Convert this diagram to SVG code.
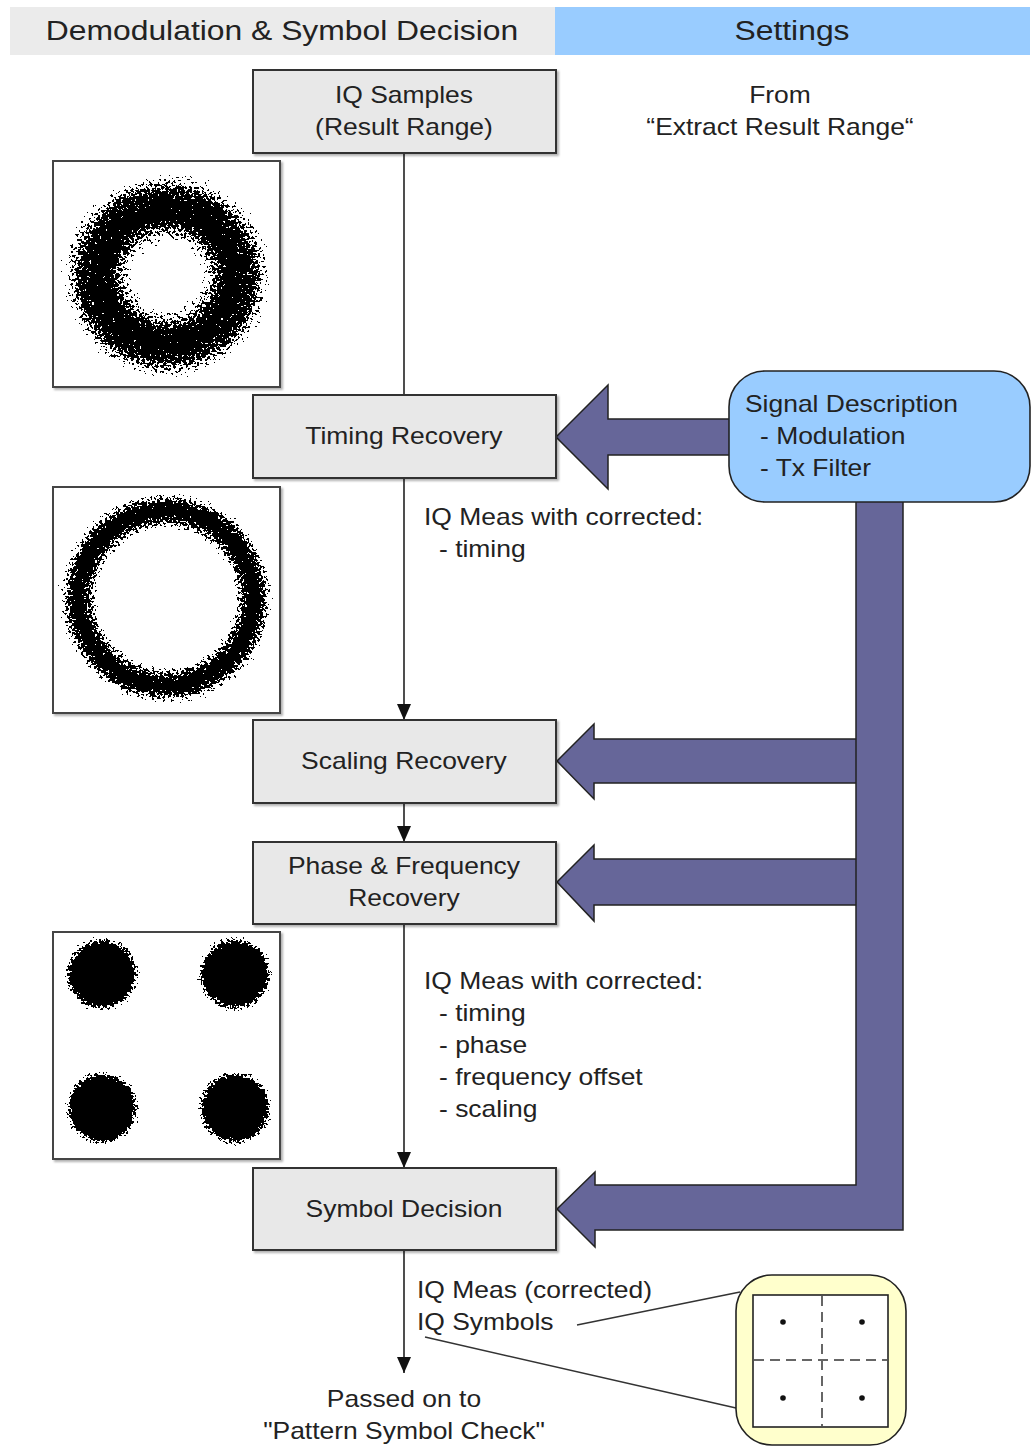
<svg xmlns="http://www.w3.org/2000/svg" width="1032" height="1447" viewBox="0 0 1032 1447">
<style>
text { font-family: "Liberation Sans", Arial, sans-serif; fill: #222; font-size: 23px; transform: scaleX(1.15); transform-box: fill-box; }
.c { text-anchor: middle; transform-origin: 50% 50%; }
.l { text-anchor: start; transform-origin: 0 50%; }
.hd { font-size: 27.7px; }
.box { fill: #e8e8e8; stroke: #333; stroke-width: 2; filter: url(#sh); }
.frame { fill: #fff; stroke: #444; stroke-width: 2; filter: url(#sh); }
.big { fill: #666699; stroke: #222; stroke-width: 1.5; stroke-linejoin: miter; }
.ln { fill: none; stroke: #222; stroke-width: 1.6; }
.thin { fill: none; stroke: #333; stroke-width: 1.5; }
.dash { fill: none; stroke: #666; stroke-width: 2; stroke-dasharray: 10 6; }
</style>
<defs>
<filter id="sh" x="-5%" y="-5%" width="115%" height="120%">
<feDropShadow dx="2" dy="2" stdDeviation="1.2" flood-color="#000" flood-opacity="0.3"/>
</filter>
<filter id="speck" x="0" y="0" width="1" height="1" color-interpolation-filters="sRGB">
<feTurbulence type="fractalNoise" baseFrequency="0.38" numOctaves="2" seed="7" result="n"/>
<feColorMatrix in="n" type="matrix" values="0 0 0 0 0  0 0 0 0 0  0 0 0 0 0  1 0 0 0 0" result="na"/>
<feComposite in="SourceGraphic" in2="na" operator="arithmetic" k1="0" k2="1" k3="-1" k4="0.5" result="c"/>
<feColorMatrix in="c" type="matrix" values="0 0 0 0 0  0 0 0 0 0  0 0 0 0 0  0 0 0 1 0" result="c2"/>
<feComponentTransfer in="c2"><feFuncA type="discrete" tableValues="0 1"/></feComponentTransfer>
</filter>
<radialGradient id="ring1" cx="0.5" cy="0.5" r="0.5">
<stop offset="0" stop-color="#000" stop-opacity="0"/>
<stop offset="0.22" stop-color="#000" stop-opacity="0.04"/>
<stop offset="0.36" stop-color="#000" stop-opacity="0.4"/>
<stop offset="0.55" stop-color="#000" stop-opacity="0.8"/>
<stop offset="0.75" stop-color="#000" stop-opacity="0.65"/>
<stop offset="0.88" stop-color="#000" stop-opacity="0.32"/>
<stop offset="1" stop-color="#000" stop-opacity="0"/>
</radialGradient>
<radialGradient id="ring2" cx="0.5" cy="0.5" r="0.5">
<stop offset="0" stop-color="#000" stop-opacity="0"/>
<stop offset="0.56" stop-color="#000" stop-opacity="0"/>
<stop offset="0.66" stop-color="#000" stop-opacity="0.5"/>
<stop offset="0.78" stop-color="#000" stop-opacity="0.85"/>
<stop offset="0.88" stop-color="#000" stop-opacity="0.5"/>
<stop offset="0.96" stop-color="#000" stop-opacity="0.15"/>
<stop offset="1" stop-color="#000" stop-opacity="0"/>
</radialGradient>
<radialGradient id="blob" cx="0.5" cy="0.5" r="0.5">
<stop offset="0" stop-color="#000" stop-opacity="1"/>
<stop offset="0.62" stop-color="#000" stop-opacity="1"/>
<stop offset="0.76" stop-color="#000" stop-opacity="0.6"/>
<stop offset="0.9" stop-color="#000" stop-opacity="0.25"/>
<stop offset="1" stop-color="#000" stop-opacity="0"/>
</radialGradient>
<marker id="ah" viewBox="0 0 16 14" refX="16" refY="7" markerWidth="16" markerHeight="14" markerUnits="userSpaceOnUse" orient="auto">
<path d="M0,0 L16,7 L0,14 z" fill="#111"/>
</marker>
</defs>

<rect width="1032" height="1447" fill="#fff"/>

<g id="header">
<rect x="10" y="7" width="545" height="48" fill="#ebebeb"/>
<rect x="555" y="7" width="475" height="48" fill="#99ccff"/>
<text class="c hd" x="282" y="40">Demodulation &amp; Symbol Decision</text>
<text class="c hd" x="792" y="40">Settings</text>
</g>

<g id="connectors">
<line class="ln" x1="404" y1="153" x2="404" y2="395"/>
<line class="ln" x1="404" y1="478" x2="404" y2="720" marker-end="url(#ah)"/>
<line class="ln" x1="404" y1="803" x2="404" y2="842" marker-end="url(#ah)"/>
<line class="ln" x1="404" y1="924" x2="404" y2="1168" marker-end="url(#ah)"/>
<line class="ln" x1="404" y1="1250" x2="404" y2="1373" marker-end="url(#ah)"/>
<line class="thin" x1="577" y1="1325" x2="740" y2="1292"/>
<line class="thin" x1="425" y1="1337" x2="736" y2="1408"/>
<path class="big" d="M556,437 L608,385 L608,419 L735,419 L735,455 L608,455 L608,489 Z"/>
<path class="big" d="M557,761 L594,724 L594,739 L860,739 L860,783 L594,783 L594,799 Z"/>
<path class="big" d="M557,882 L594,845 L594,859 L860,859 L860,905 L594,905 L594,921 Z"/>
<path class="big" d="M903,495 L903,1230 L595,1230 L595,1247 L557,1209 L595,1172 L595,1185 L856,1185 L856,495 Z"/>
</g>

<g id="iq-samples">
<rect class="box" x="253" y="70" width="303" height="83"/>
<text class="c" x="404" y="103">IQ Samples</text>
<text class="c" x="404" y="135">(Result Range)</text>
</g>

<g id="from-label">
<text class="c" x="780" y="103">From</text>
<text class="c" x="780" y="135">“Extract Result Range“</text>
</g>

<g id="timing-recovery">
<rect class="box" x="253" y="395" width="303" height="83"/>
<text class="c" x="404" y="444">Timing Recovery</text>
</g>

<g id="signal-description">
<rect x="729" y="371" width="301" height="131" rx="36" ry="36" fill="#99ccff" stroke="#222" stroke-width="1.6"/>
<text class="l" x="745" y="412">Signal Description</text>
<text class="l" x="760" y="444">- Modulation</text>
<text class="l" x="760" y="476">- Tx Filter</text>
</g>

<g id="label-timing">
<text class="l" x="424" y="525">IQ Meas with corrected:</text>
<text class="l" x="439" y="557">- timing</text>
</g>

<g id="scaling-recovery">
<rect class="box" x="253" y="720" width="303" height="83"/>
<text class="c" x="404" y="769">Scaling Recovery</text>
</g>

<g id="phase-frequency-recovery">
<rect class="box" x="253" y="842" width="303" height="82"/>
<text class="c" x="404" y="874">Phase &amp; Frequency</text>
<text class="c" x="404" y="906">Recovery</text>
</g>

<g id="label-corrected">
<text class="l" x="424" y="989">IQ Meas with corrected:</text>
<text class="l" x="439" y="1021">- timing</text>
<text class="l" x="439" y="1053">- phase</text>
<text class="l" x="439" y="1085">- frequency offset</text>
<text class="l" x="439" y="1117">- scaling</text>
</g>

<g id="symbol-decision">
<rect class="box" x="253" y="1168" width="303" height="82"/>
<text class="c" x="404" y="1217">Symbol Decision</text>
</g>

<g id="label-output">
<text class="l" x="417" y="1298">IQ Meas (corrected)</text>
<text class="l" x="417" y="1330">IQ Symbols</text>
</g>

<g id="passed-on">
<text class="c" x="404" y="1407">Passed on to</text>
<text class="c" x="404" y="1439">"Pattern Symbol Check"</text>
</g>

<g id="plot-raw">
<rect class="frame" x="53" y="161" width="227" height="226"/>
<g filter="url(#speck)">
<ellipse cx="167" cy="276" rx="114" ry="112" fill="url(#ring1)"/>
</g>
</g>

<g id="plot-timing">
<rect class="frame" x="53" y="487" width="227" height="226"/>
<g filter="url(#speck)">
<circle cx="166" cy="598" r="113" fill="url(#ring2)"/>
</g>
</g>

<g id="plot-corrected">
<rect class="frame" x="53" y="932" width="227" height="227"/>
<g filter="url(#speck)">
<circle cx="102" cy="974" r="42" fill="url(#blob)"/>
<circle cx="235" cy="974" r="42" fill="url(#blob)"/>
<circle cx="102" cy="1108" r="42" fill="url(#blob)"/>
<circle cx="235" cy="1108" r="42" fill="url(#blob)"/>
</g>
</g>

<g id="constellation">
<rect x="736" y="1275" width="170" height="170" rx="36" ry="36" fill="#ffffcc" stroke="#222" stroke-width="1.6"/>
<rect x="753" y="1295" width="135" height="132" fill="#fff" stroke="#222" stroke-width="1.6"/>
<line class="dash" x1="822" y1="1296" x2="822" y2="1426"/>
<line class="dash" x1="754" y1="1360" x2="887" y2="1360"/>
<circle cx="783" cy="1322" r="2.8" fill="#111"/>
<circle cx="862" cy="1322" r="2.8" fill="#111"/>
<circle cx="783" cy="1398" r="2.8" fill="#111"/>
<circle cx="862" cy="1398" r="2.8" fill="#111"/>
</g>
</svg>
